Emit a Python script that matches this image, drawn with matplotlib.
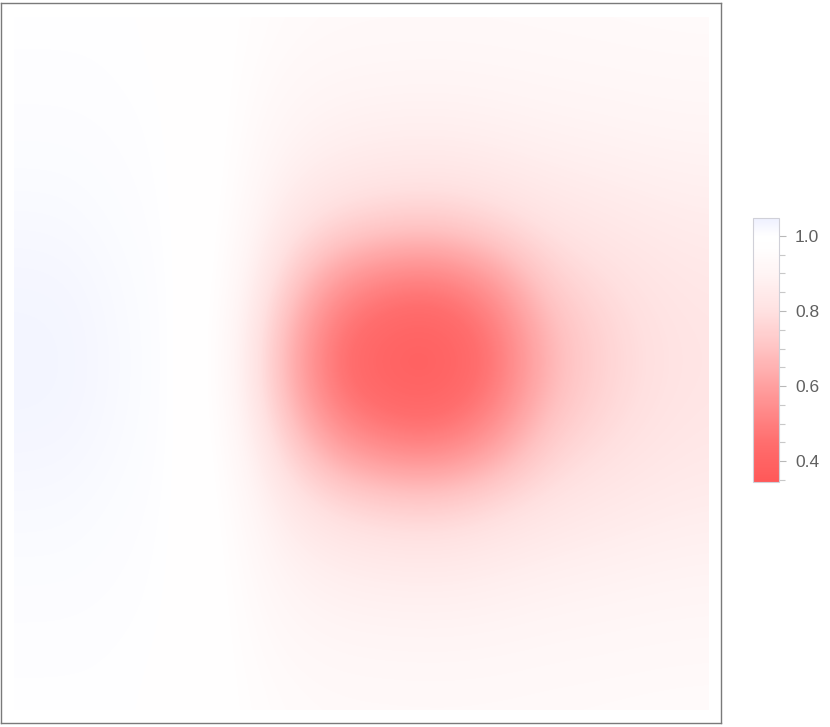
import numpy as np
import matplotlib
matplotlib.use('Agg')
import matplotlib.pyplot as plt
from matplotlib.colors import LinearSegmentedColormap, Normalize
from matplotlib.patches import Rectangle
from matplotlib.ticker import MultipleLocator

plt.rcParams['font.family'] = ['Liberation Sans', 'DejaVu Sans']

# field values, one list per column (left -> right), top -> bottom
col_00 = [1.000, 1.002, 1.005, 1.010, 1.018, 1.026, 1.032, 1.032, 1.025, 1.017, 1.010, 1.005, 1.002, 1.000]
col_01 = [1.000, 1.002, 1.005, 1.010, 1.017, 1.025, 1.030, 1.030, 1.024, 1.016, 1.010, 1.005, 1.002, 1.000]
col_02 = [1.000, 1.001, 1.003, 1.005, 1.008, 1.012, 1.014, 1.014, 1.012, 1.008, 1.005, 1.003, 1.001, 1.000]
col_03 = [0.995, 0.997, 0.999, 1.000, 1.001, 1.002, 1.003, 1.003, 1.002, 1.001, 1.000, 0.999, 0.997, 0.995]
col_04 = [0.975, 0.975, 0.975, 0.975, 0.972, 0.968, 0.962, 0.962, 0.968, 0.972, 0.975, 0.975, 0.975, 0.975]
col_05 = [0.950, 0.935, 0.913, 0.880, 0.835, 0.760, 0.690, 0.690, 0.765, 0.840, 0.884, 0.915, 0.936, 0.950]
col_06 = [0.941, 0.920, 0.888, 0.845, 0.750, 0.570, 0.455, 0.458, 0.585, 0.760, 0.850, 0.891, 0.922, 0.941]
col_07 = [0.939, 0.916, 0.880, 0.830, 0.712, 0.490, 0.395, 0.397, 0.505, 0.722, 0.835, 0.885, 0.918, 0.940]
col_08 = [0.938, 0.914, 0.879, 0.826, 0.705, 0.478, 0.384, 0.387, 0.490, 0.715, 0.831, 0.883, 0.917, 0.939]
col_09 = [0.939, 0.918, 0.885, 0.840, 0.750, 0.570, 0.466, 0.469, 0.585, 0.760, 0.846, 0.889, 0.920, 0.940]
col_10 = [0.941, 0.923, 0.895, 0.858, 0.805, 0.735, 0.670, 0.673, 0.740, 0.808, 0.862, 0.899, 0.926, 0.942]
col_11 = [0.943, 0.927, 0.901, 0.868, 0.830, 0.785, 0.755, 0.757, 0.788, 0.833, 0.872, 0.905, 0.929, 0.944]
col_12 = [0.945, 0.931, 0.908, 0.878, 0.847, 0.820, 0.805, 0.806, 0.822, 0.850, 0.882, 0.911, 0.933, 0.946]
col_13 = [0.946, 0.933, 0.911, 0.884, 0.857, 0.835, 0.823, 0.824, 0.837, 0.860, 0.888, 0.915, 0.935, 0.947]

cbar_ticks = [0.4, 0.6, 0.8, 1.0]
vmin, vmax = 0.344, 1.048

# colour scale: red -> white -> pale blue
cmap_nodes = [
    (0.344, (255, 88, 88)),
    (0.45, (255, 110, 110)),
    (0.6, (255, 160, 160)),
    (0.7, (255, 195, 195)),
    (0.8, (255, 225, 225)),
    (0.9, (255, 244, 244)),
    (0.97, (255, 254, 254)),
    (1.0, (255, 255, 255)),
    (1.048, (238, 240, 255)),
]
cmap = LinearSegmentedColormap.from_list(
    'redwhiteblue',
    [((v - vmin) / (vmax - vmin), tuple(c / 255 for c in rgb)) for v, rgb in cmap_nodes])
norm = Normalize(vmin=vmin, vmax=vmax)

field = np.column_stack([col_00, col_01, col_02, col_03, col_04, col_05, col_06,
                         col_07, col_08, col_09, col_10, col_11, col_12, col_13])

W, H = 830, 727
fig = plt.figure(figsize=(W / 100, H / 100), dpi=100)

# main frame (pixel coords of the picture used as data coords)
ax = fig.add_axes([1 / W, (H - 723) / H, 720 / W, 720 / H])
ax.set_xlim(1, 721)
ax.set_ylim(723, 3)

x0, x1, y0, y1 = 14, 708, 17, 710
nx, ny = field.shape[1], field.shape[0]
dx = (x1 - x0) / (nx - 1)
dy = (y1 - y0) / (ny - 1)
im = ax.imshow(field, cmap=cmap, norm=norm, interpolation='bicubic',
               extent=(x0 - dx / 2, x1 + dx / 2, y1 + dy / 2, y0 - dy / 2),
               aspect='auto')
clip = Rectangle((x0, y0), x1 - x0, y1 - y0, transform=ax.transData)
im.set_clip_path(clip)

ax.set_xticks([])
ax.set_yticks([])
for sp in ax.spines.values():
    sp.set_color('#7a7a7a')
    sp.set_linewidth(1.0)

# colour bar
cax = fig.add_axes([753 / W, (H - 482) / H, 26 / W, 264 / H])
cb = fig.colorbar(im, cax=cax)
cb.set_ticks(cbar_ticks)
cb.ax.yaxis.set_minor_locator(MultipleLocator(0.05))
cb.ax.tick_params(which='major', length=5, width=0.8, color='#b8b8b8',
                  labelsize=12.5, labelcolor='#606060', pad=6.5)
cb.ax.tick_params(which='minor', length=4, width=0.8, color='#c8c8c8')
cb.outline.set_edgecolor('#d0d0d8')
cb.outline.set_linewidth(0.8)

fig.savefig('out.png', dpi=100)
